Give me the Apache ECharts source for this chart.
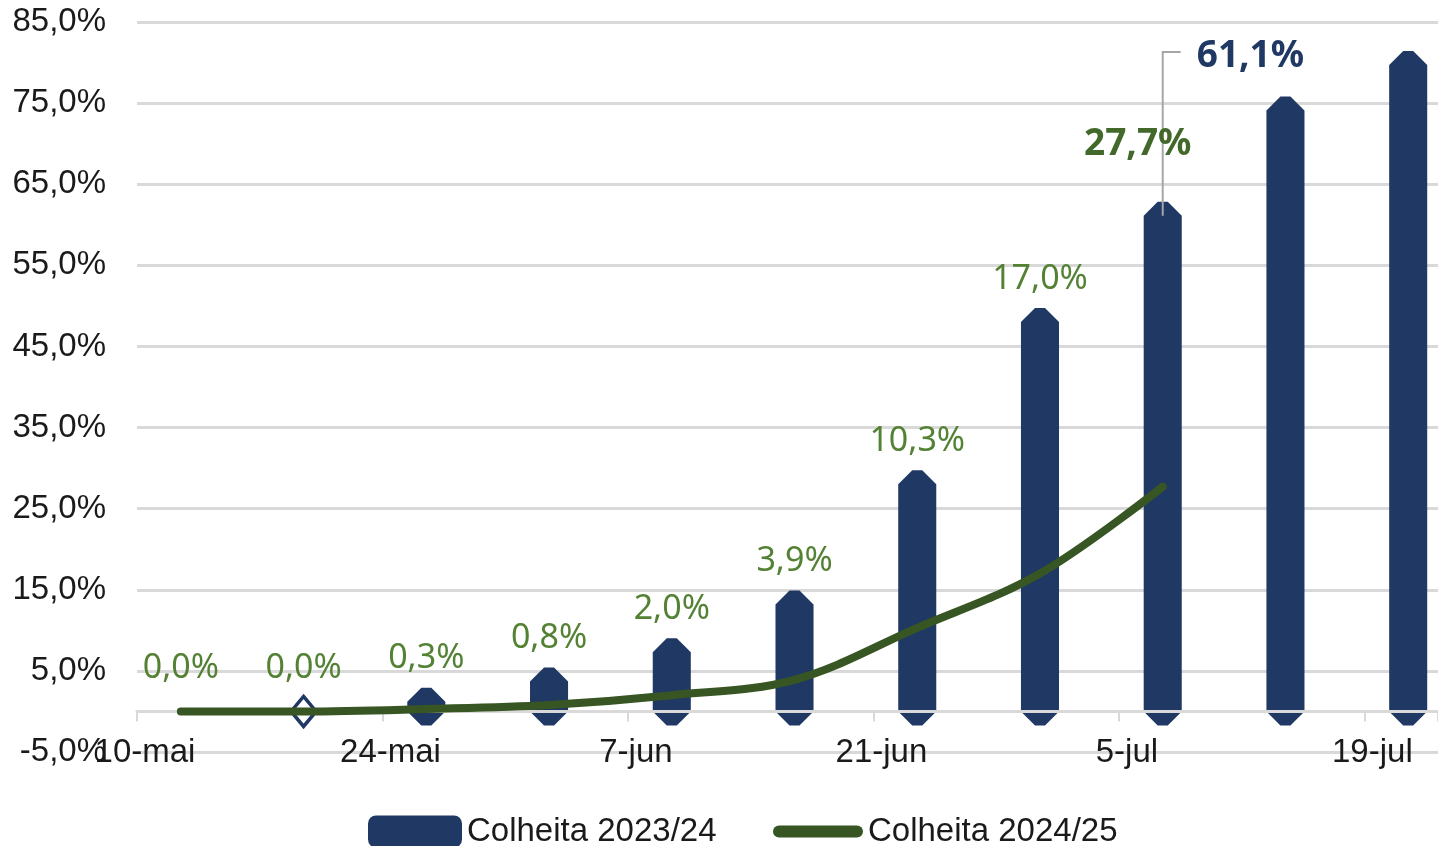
<!DOCTYPE html>
<html>
<head>
<meta charset="utf-8">
<script src="https://cdn.jsdelivr.net/npm/echarts@6/dist/echarts.min.js"></script>
<style>
html,body{margin:0;padding:0;background:#ffffff;}
#chart{width:1438px;height:846px;}
</style>
</head>
<body>
<div id="chart"></div>
<script>
// ---------- data ----------
const axisStart = '2024-05-10';
const weekDates = ['2024-05-12','2024-05-19','2024-05-26','2024-06-02','2024-06-09','2024-06-16','2024-06-23','2024-06-30','2024-07-07','2024-07-14','2024-07-21'];
const harvest2023 = [null, 0.0, 1.2, 3.7, 7.3, 13.2, 28.0, 48.0, 61.1, 74.1, 79.7];
const harvest2024 = [0.0, 0.0, 0.3, 0.8, 2.0, 3.9, 10.3, 17.0, 27.7];
const seriesNames = ['Colheita 2023/24', 'Colheita 2024/25'];
const xTickLabels = ['10-mai', '24-mai', '7-jun', '21-jun', '5-jul', '19-jul'];
const xTickDays = 14;
const yMin = -5, yMax = 85, yStep = 10;

// ---------- helpers ----------
const DAY = 86400000;
const t0 = Date.parse(axisStart);
const dayPos = d => (Date.parse(d) - t0) / DAY + 0.5;
const fmtPct = v => v.toFixed(1).replace('.', ',') + '%';

const NAVY = '#203864';
const GREEN = '#375623';
const LABEL_GREEN = '#548235';
const GRID_GREY = '#d9d9d9';
const AXIS_FONT = '"Liberation Sans", Arial, sans-serif';
const LABEL_FONT = '"Noto Sans", "Open Sans", sans-serif';

const barData = weekDates.map((d, i) => [dayPos(d), harvest2023[i]]).filter(p => p[1] != null);
const lineData = harvest2024.map((v, i) => [dayPos(weekDates[i]), v]);
const labelData = harvest2024.map((v, i) => [dayPos(weekDates[i]), v, harvest2023[i] == null ? 0 : harvest2023[i], i]);
const lastIdx = harvest2024.length - 1;

function renderBar(params, api) {
  const x = api.value(0), v = api.value(1);
  const [cx, yt] = api.coord([x, v]);
  const y0 = api.coord([x, 0])[1];
  const hw = api.size([7, 0])[0] * 0.155;
  const fl = 5, cap = 14;
  if (v === 0) {
    return {
      type: 'polygon',
      shape: { points: [[cx, y0 - 15], [cx + 12.5, y0], [cx, y0 + 15], [cx - 12.5, y0]] },
      style: { fill: '#ffffff', stroke: NAVY, lineWidth: 3.5 }
    };
  }
  return {
    type: 'polygon',
    shape: { points: [[cx - hw, yt], [cx - fl, yt - cap], [cx + fl, yt - cap], [cx + hw, yt],
                      [cx + hw, y0], [cx + fl, y0 + cap], [cx - fl, y0 + cap], [cx - hw, y0]] },
    style: { fill: NAVY }
  };
}

function renderLabel(params, api) {
  const x = api.value(0), lv = api.value(1), bv = api.value(2), i = api.value(3);
  const cx = api.coord([x, lv])[0];
  const top = api.coord([x, yMax])[1];
  if (i === lastIdx) {
    const yb = api.coord([x, bv])[1];
    return {
      type: 'group',
      children: [
        { type: 'polyline', shape: { points: [[cx, yb], [cx, top + 30], [cx + 18, top + 30]] },
          style: { stroke: '#a6a6a6', lineWidth: 2, fill: null } },
        { type: 'text', x: cx + 34, y: top + 34,
          style: { text: fmtPct(bv), fill: NAVY, fontSize: 37, fontWeight: 'bold', fontFamily: LABEL_FONT, align: 'left', verticalAlign: 'middle' } },
        { type: 'text', x: cx - 25, y: top + 122,
          style: { text: fmtPct(lv), fill: '#43692a', fontSize: 37, fontWeight: 'bold', fontFamily: LABEL_FONT, align: 'center', verticalAlign: 'middle' } }
      ]
    };
  }
  const peak = api.coord([x, Math.max(lv, bv)])[1] - 14;
  return {
    type: 'text', x: cx, y: peak - 29,
    style: { text: fmtPct(lv), fill: LABEL_GREEN, fontSize: 34, fontFamily: LABEL_FONT, align: 'center', verticalAlign: 'middle' }
  };
}

const chart = echarts.init(document.getElementById('chart'), null, { renderer: 'canvas' });
chart.setOption({
  animation: false,
  backgroundColor: '#ffffff',
  grid: { left: 137, right: 0, top: 22, bottom: 94, containLabel: false, outerBoundsMode: 'none' },
  legend: [
    {
      data: [{ name: seriesNames[0], icon: 'roundRect' }],
      left: 368, top: 815, padding: 0, itemWidth: 94, itemHeight: 32, selectedMode: false,
      textStyle: { fontSize: 33, lineHeight: 32, fontFamily: AXIS_FONT, color: '#1a1a1a' }
    },
    {
      data: [{ name: seriesNames[1], icon: 'path://M6,0H84A6,6 0 0 1 84,12H6A6,6 0 0 1 6,0Z' }],
      left: 773, top: 815, padding: 0, itemWidth: 90, itemHeight: 12, selectedMode: false,
      textStyle: { fontSize: 33, lineHeight: 32, fontFamily: AXIS_FONT, color: '#1a1a1a' }
    }
  ],
  xAxis: {
    type: 'value', min: 0, max: 74.2, interval: xTickDays, z: 1.5,
    axisLine: { show: true, onZero: true, lineStyle: { color: GRID_GREY, width: 3 } },
    axisTick: { show: true, length: 10, lineStyle: { color: GRID_GREY, width: 2 } },
    splitLine: { show: false },
    axisLabel: {
      margin: -16, fontSize: 33, lineHeight: 33, fontFamily: AXIS_FONT, color: '#1a1a1a', padding: [0, 0, 0, 16],
      formatter: v => {
        const k = v / xTickDays;
        if (Math.abs(k - Math.round(k)) > 1e-6) return '';
        return xTickLabels[Math.round(k)] || '';
      }
    }
  },
  yAxis: {
    type: 'value', min: yMin, max: yMax, interval: yStep, z: 0,
    axisLine: { show: false }, axisTick: { show: false },
    splitLine: { show: true, lineStyle: { color: GRID_GREY, width: 3 } },
    axisLabel: { margin: 31, fontSize: 33, fontFamily: AXIS_FONT, color: '#1a1a1a', formatter: v => fmtPct(v) }
  },
  series: [
    {
      name: seriesNames[0], type: 'custom', z: 1,
      itemStyle: { color: NAVY },
      encode: { x: 0, y: 1 },
      data: barData,
      renderItem: renderBar
    },
    {
      name: seriesNames[1], type: 'line', z: 3,
      data: lineData, smooth: 0.35, symbol: 'none',
      itemStyle: { color: GREEN },
      lineStyle: { color: GREEN, width: 8, cap: 'round', join: 'round' }
    },
    {
      name: 'labels', type: 'custom', z: 4,
      encode: { x: 0, y: 1 },
      data: labelData,
      renderItem: renderLabel
    }
  ]
});
</script>
</body>
</html>
